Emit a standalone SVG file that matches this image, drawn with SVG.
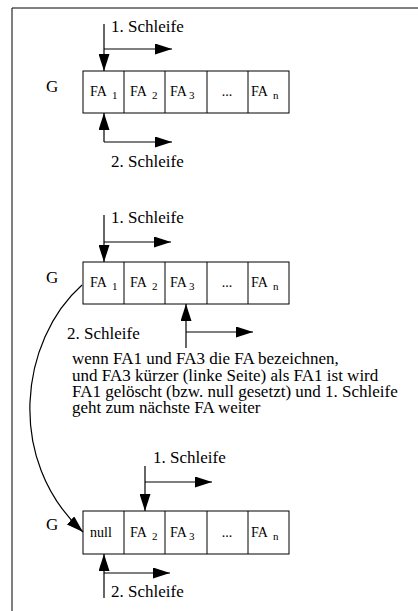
<svg xmlns="http://www.w3.org/2000/svg" width="418" height="611" viewBox="0 0 418 611">
<style>
text{font-family:"Liberation Serif","Times New Roman",serif;fill:#000}
.lbl{font-size:17px}
.cell{font-size:14px}
.sub{font-size:11px}
.box{fill:#fff;stroke:#000;stroke-width:1}
.ln{fill:none;stroke:#000;stroke-width:1.2}
.dv{fill:none;stroke:#000;stroke-width:1}
</style>
<defs>
<marker id="ah" viewBox="0 0 17 11" refX="17" refY="5.5" markerWidth="17" markerHeight="11" orient="auto" markerUnits="userSpaceOnUse">
<path d="M0,0 L17,5.5 L0,11 z" fill="#000"/>
</marker>
</defs>
<rect width="418" height="611" fill="#fff"/>
<path d="M12,611 V8 H418" fill="none" stroke="#000" stroke-width="1"/>

<g id="row1">
<text class="lbl" x="46" y="92">G</text>
<rect class="box" x="83" y="71" width="206" height="42"/>
<path class="dv" d="M124,71 V113 M165,71 V113 M207,71 V113 M248,71 V113"/>
<text class="cell" x="90" y="96">FA<tspan class="sub" x="112" y="99">1</tspan></text>
<text class="cell" x="130" y="96">FA<tspan class="sub" x="152" y="99">2</tspan></text>
<text class="cell" x="170" y="96">FA<tspan class="sub" x="189" y="99">3</tspan></text>
<text class="cell" x="227" y="96" text-anchor="middle">...</text>
<text class="cell" x="251" y="96">FA<tspan class="sub" x="273" y="99">n</tspan></text>
<text class="lbl" x="111" y="32">1. Schleife</text>
<text class="lbl" x="111" y="167">2. Schleife</text>
</g>

<g id="row2">
<text class="lbl" x="46" y="283">G</text>
<rect class="box" x="83" y="262" width="206" height="42"/>
<path class="dv" d="M124,262 V304 M165,262 V304 M207,262 V304 M248,262 V304"/>
<text class="cell" x="90" y="287">FA<tspan class="sub" x="112" y="290">1</tspan></text>
<text class="cell" x="130" y="287">FA<tspan class="sub" x="152" y="290">2</tspan></text>
<text class="cell" x="170" y="287">FA<tspan class="sub" x="189" y="290">3</tspan></text>
<text class="cell" x="227" y="287" text-anchor="middle">...</text>
<text class="cell" x="251" y="287">FA<tspan class="sub" x="273" y="290">n</tspan></text>
<text class="lbl" x="111" y="223">1. Schleife</text>
<text class="lbl" x="67" y="339">2. Schleife</text>
</g>

<g id="note">
<text class="lbl" x="72" y="364">wenn FA1 und FA3 die FA bezeichnen,</text>
<text class="lbl" x="72" y="381">und FA3 kürzer (linke Seite) als FA1 ist wird</text>
<text class="lbl" x="72" y="397">FA1 gelöscht (bzw. null gesetzt) und 1. Schleife</text>
<text class="lbl" x="72" y="413">geht zum nächste FA weiter</text>
</g>

<g id="row3">
<text class="lbl" x="46" y="530">G</text>
<rect class="box" x="83" y="511" width="206" height="43"/>
<path class="dv" d="M124,511 V554 M165,511 V554 M207,511 V554 M248,511 V554"/>
<text class="cell" x="90" y="537">null</text>
<text class="cell" x="130" y="537">FA<tspan class="sub" x="152" y="540">2</tspan></text>
<text class="cell" x="170" y="537">FA<tspan class="sub" x="189" y="540">3</tspan></text>
<text class="cell" x="227" y="537" text-anchor="middle">...</text>
<text class="cell" x="251" y="537">FA<tspan class="sub" x="273" y="540">n</tspan></text>
<text class="lbl" x="153" y="463">1. Schleife</text>
<text class="lbl" x="111" y="597">2. Schleife</text>
</g>

<g id="connectors">
<path class="ln" d="M104,24 V71" marker-end="url(#ah)"/>
<path class="ln" d="M104,49 H172" marker-end="url(#ah)"/>
<path class="ln" d="M104,142 V113" marker-end="url(#ah)"/>
<path class="ln" d="M104,142 H172" marker-end="url(#ah)"/>
<path class="ln" d="M104,215 V262" marker-end="url(#ah)"/>
<path class="ln" d="M104,242 H171" marker-end="url(#ah)"/>
<path class="ln" d="M186,348 V304" marker-end="url(#ah)"/>
<path class="ln" d="M186,332 H253" marker-end="url(#ah)"/>
<path class="ln" d="M145,466 V511" marker-end="url(#ah)"/>
<path class="ln" d="M145,482 H212" marker-end="url(#ah)"/>
<path class="ln" d="M104,598 V554" marker-end="url(#ah)"/>
<path class="ln" d="M104,573 H170" marker-end="url(#ah)"/>
<path class="ln" d="M82,285 C20,340 5,460 83,532" marker-end="url(#ah)"/>
</g>
</svg>
